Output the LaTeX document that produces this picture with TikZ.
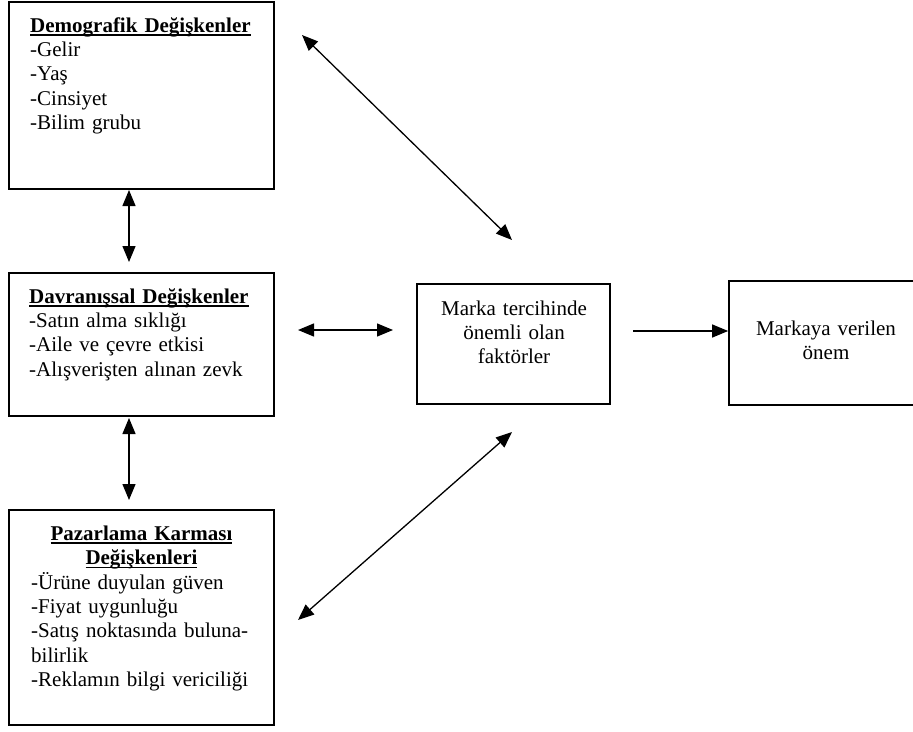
\documentclass[tikz,border=0pt]{standalone}
\usepackage{fontspec}
\setmainfont{Liberation Serif}
\usetikzlibrary{arrows.meta,positioning}
\newcommand{\undl}[1]{\setbox0\hbox{#1}\rlap{\rule[-3.8pt]{\wd0}{1.6pt}}\box0}
\tikzset{
  box/.style={draw, line width=1.7pt, inner sep=0pt},
  txt/.style={inner sep=0pt, font=\fontsize{21}{24.4}\selectfont},
  link/.style={line width=1.3pt, {Triangle[length=16pt,width=13pt]}-{Triangle[length=16pt,width=13pt]}},
  onelink/.style={line width=1.3pt, -{Triangle[length=16pt,width=13pt]}}
}
\begin{document}
\begin{tikzpicture}[x=1pt,y=-1pt]
  \useasboundingbox (0,0) rectangle (913,731);
  \clip (0,0) rectangle (913,731);
  \node[box, minimum width=265pt, minimum height=187pt] (demo) at (141.5,95.5) {};
  \node[box, minimum width=265pt, minimum height=143pt] (davr) at (141.5,344.5) {};
  \node[box, minimum width=265pt, minimum height=215pt] (pazar) at (141.5,617.5) {};
  \node[box, minimum width=193pt, minimum height=120pt] (marka) at (513.5,344) {};
  \node[box, minimum width=195pt, minimum height=124pt] (onem) at (826.5,343) {};

  \node[txt, text width=240pt, align=left, anchor=base west] (demotxt) at (30,32)
    {\textbf{\undl{Demografik Değişkenler}}\\-Gelir\\-Yaş\\-Cinsiyet\\-Bilim grubu};
  \node[txt, text width=240pt, align=left, anchor=base west] (davrtxt) at (29,303)
    {\textbf{\undl{Davranışsal Değişkenler}}\\-Satın alma sıklığı\\-Aile ve çevre etkisi\\-Alışverişten alınan zevk};
  \node[txt, text width=265pt, align=center, anchor=base] (pazarhead) at (141.5,540)
    {\textbf{\undl{Pazarlama Karması}}\\\textbf{\undl{Değişkenleri}}};
  \node[txt, text width=240pt, align=left, anchor=base west] (pazartxt) at (31,589)
    {-Ürüne duyulan güven\\-Fiyat uygunluğu\\-Satış noktasında buluna-\\bilirlik\\-Reklamın bilgi vericiliği};
  \node[txt, text width=190pt, align=center, anchor=base] (markatxt) at (514,315)
    {Marka tercihinde\\önemli olan\\faktörler};
  \node[txt, text width=190pt, align=center, anchor=base] (onemtxt) at (826,335)
    {Markaya verilen\\önem};

  \coordinate (a1) at (129,190);
  \coordinate (a2) at (129,262);
  \coordinate (b1) at (129,418);
  \coordinate (b2) at (129,500);
  \coordinate (c1) at (298,330);
  \coordinate (c2) at (393,330);
  \coordinate (d1) at (633,331);
  \coordinate (e1) at (302,35);
  \coordinate (e2) at (512,240);
  \coordinate (f1) at (512,432);
  \coordinate (f2) at (298,620);

  \draw[link] (a1) -- (a2);
  \draw[link] (b1) -- (b2);
  \draw[link] (c1) -- (c2);
  \draw[onelink] (d1) -- (onem.west |- d1);
  \draw[link] (e1) -- (e2);
  \draw[link] (f1) -- (f2);
\end{tikzpicture}
\end{document}
